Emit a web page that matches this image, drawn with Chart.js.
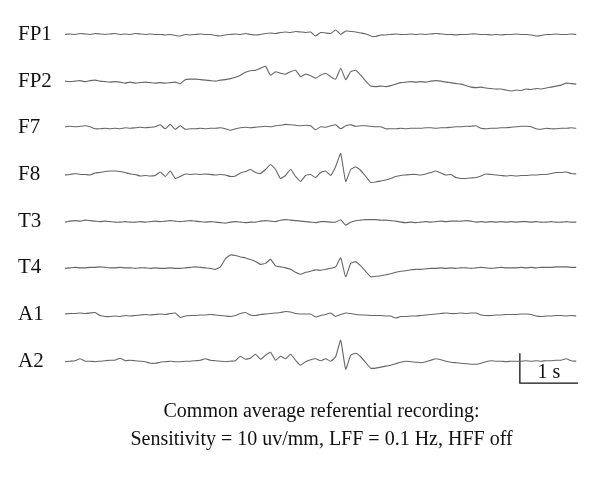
<!DOCTYPE html>
<html>
<head>
<meta charset="utf-8">
<script src="https://cdn.jsdelivr.net/npm/chart.js@4.4.0/dist/chart.umd.min.js"></script>
<style>
  html, body { margin: 0; padding: 0; background: #fff; }
  canvas { display: block; }
</style>
</head>
<body>
<canvas id="eeg" width="600" height="484"></canvas>
<script>
// EEG traces (common average montage), one sample every SAMPLE_STEP_S seconds,
// amplitudes in display units
const channels = ['FP1', 'FP2', 'F7', 'F8', 'T3', 'T4', 'A1', 'A2'];
const SAMPLE_STEP_S = 5 / 58;
const CHANNEL_GAP = 47;
const SCALE_BAR_S = 1;
const SCALE_BAR_AMP = 30;

const fp1 = [
  0, 0.5, 0, 1, 0.5, 0, 1, 0.5, 0, 0.5,
  1, 0, 0.5, 0, 1, 0.5, 0, 0.5, 0, 0,
  -0.5, 0, -1, -1.5, 0, -0.5, 0, 0.5, 0, 0,
  -1, -1.5, -0.5, 0, 0.5, 0, 1, 0, -0.5, 0,
  1, 1.5, 1, 2, 2.5, 2, 3, 2.5, 2, 2.5,
  -1.5, 2, 1.5, 1, 4.5, 0, 3.5, 3, 2.5, 1.5,
  0.5, -1.5, -2, -0.5, -0.5, 0, 0.5, 0, 0, 0.5,
  0, 0.5, 0, 0.5, 1, 0.5, 0, 0, -0.5, 0,
  0, 0.5, 0.5, 0, 0, -0.5, 0, -0.5, 0, 0,
  0.5, 0, 0, -0.5, -1.5, -1, 0, 0, 0.5, 0,
  0, 0.5, 0
];
const fp2 = [
  0, -0.5, 0, 0.5, -0.5, 0.5, 1, 0, -0.5, -1,
  -0.5, -1, -2, -1, -2, -1.5, -1, -1.5, -2, -1.5,
  -2, -1.5, -1, -2.5, 1.5, 2, 2, 1.5, 1, 0.5,
  0, 1, 1.5, 2.5, 4, 6, 9, 10.5, 11, 13,
  15, 6, 9.5, 8, 7, 9.5, 11, 4.5, 7, 5.5,
  3, 6, 8, 4.5, 2, 13, 1.5, 9.5, 11, 6,
  0, -5, -5.5, -5, -5.5, -4.5, -3, -1.5, -1, -0.5,
  -1, -0.5, -1, 0, 0.5, 0, -1, -1.5, -2.5, -3,
  -4.5, -6, -6.5, -6, -7, -7.5, -8, -8, -9, -10,
  -9, -9.5, -8, -8.5, -7.5, -8, -7, -6, -5, -4,
  -2, -2.5, -3
];
const f7 = [
  1, 1.5, 1, 1.5, 2, 1, -1, -1, -0.5, -1,
  -0.5, -1, 0, -0.5, 0, 0.5, 0, 0.5, 1, 3,
  -1, 3.5, -1.5, 2, -1.5, -1, -1, -0.5, -1, -0.5,
  -0.5, 0, -1, -2.5, -1, 0, 0.5, 0, 0.5, 1,
  1.5, 1, 2, 2.5, 3.5, 3, 2.5, 2, 2.5, 2,
  -2, 1, 0.5, 2, 3, -1, 2, 3, 1.5, 2,
  2, 1.5, 1, 1, -1, -1, -1, -0.5, -1, -0.5,
  -0.5, -0.5, 0, 0, -0.5, 0, 0, 0.5, 1, 1,
  1.5, 1.5, 2, -0.5, -1, -0.5, -0.5, 0, 0, 0.5,
  1, 1.5, 1.5, 1, -1, -1.5, -0.5, -1, -1, -0.5,
  -0.5, 0, -0.5
];
const f8 = [
  -0.5, 0, 1, 0, 0, -0.5, 1.5, 2, 3, 3.5,
  3.5, 3, 2, 0.5, 0, -1.5, -1, -1.5, -1, 2.5,
  -2, 3.5, -4, -2, 0.5, 0, 0.5, 0, 0.5, 0,
  -0.5, 0, -0.5, -2, -1.5, 1.5, 3, 5, 2, 1,
  5, 10, 5, -4, -1, 5, -2, -7, -1, 0,
  -3, 2, 3.5, -1, 8, 21, -7, 5, 7.5, 4,
  -2, -8, -7.5, -6.5, -5.5, -4, -2, -1, -0.5, 0,
  0, -0.5, 0.5, 2, 3.5, 1.5, -0.5, 0, -3, -4,
  -4, -3.5, -3, -1.5, 0.5, 0, -0.5, -1, -1.5, -1,
  -1.5, -1, -1, -0.5, -0.5, 0, 0, 1, 2, 2,
  2.5, 1, 0.5
];
const t3 = [
  -1, 0, 0.5, 0, 1, 0.5, 0, -0.5, 0, -0.5,
  -1, -1, -0.5, -1, -1, -0.5, -1, -0.5, 0, -0.5,
  0, 0.5, 0, -0.5, 0, 0.5, 0, -0.5, -1, -0.5,
  -1, -1.5, -2, -1, -0.5, -1, -1.5, -1, -1, 0,
  0.5, 0, -0.5, 1, 1.5, 1, 0.5, 0, -0.5, -1,
  -1.5, -0.5, -0.5, -1, -1, 1.5, -4, -1, 0.5, 1,
  1.5, 1.5, 1.5, 1, 1, 0.5, 0, -1, -1.5, -1,
  -1.5, -1, -0.5, -1, -0.5, 0, -0.5, 0, 0, 0,
  0.5, 0, -1, -0.5, -1, -0.5, -1, -0.5, -1, -0.5,
  -1, -0.5, -0.5, -1, -0.5, -1, -1, -0.5, -1, -1,
  -0.5, -1, -1
];
const t4 = [
  -0.5, 0, 0.5, 0, 0, 0.5, 0.5, 1, 0.5, 0,
  0, 0.5, 0, 0, -0.5, 0, 0, -0.5, 0, -0.5,
  -0.5, 0, -0.5, -0.5, 0, 0.5, 1, 0.5, 0, -0.5,
  -1.5, 1, 9, 13, 12.5, 11, 10, 8.5, 6.5, 3.5,
  4.5, 8.5, 2, 1, 0, -1.5, -4.5, -6.5, -4.5, -3.5,
  -2, -2.5, -1.5, -0.5, 1, 10, -9, 4.5, 6, 2,
  -3.5, -9, -8.5, -8, -7, -6, -4.5, -3.5, -3, -2,
  -1.5, -1.5, -1, -0.5, -0.5, 0, -0.5, 0, -0.5, 0,
  0, -0.5, 0, 0.5, 0, -0.5, 0, 0.5, 0, 0,
  0, 0.5, 0, 0.5, 0, 0.5, 0.5, 0.5, 1, 1,
  1, 0.5, 0.5
];
const a1 = [
  0.5, 1, 1, 1.5, 1, 1.5, 2, -1, -2, -2,
  -1.5, -2, -1, -1.5, -1, -0.5, 0, -0.5, 0, 0.5,
  0, 1, 1.5, -3, -1.5, -1, -1, -0.5, -0.5, 0,
  -0.5, -1, -1.5, -2, -1, 1, 2, -0.5, -1, 0,
  0.5, 1, 1.5, 2, 3, 2.5, 1, 0.5, 0.5, 0.5,
  -2.5, -1, 0, 1.5, -2, 0, 1.5, 1, 0, -0.5,
  -0.5, -1, -1, -1, -1.5, -1.5, -3.5, -2, -2, -1.5,
  -1.5, -1, -0.5, 0, 0.5, 1, 1.5, 1, 1, 1.5,
  1, 1.5, 1.5, -0.5, -1, -1, -0.5, -0.5, 0, 0,
  0, 0.5, 0.5, 0, -1.5, -2, -1.5, -1.5, -1, -1,
  -1.5, -1, -1.5
];
const a2 = [
  -0.5, 0, 0.5, 2.5, 0, 0, -0.5, 0, 0.5, 1,
  1, 3, 0.5, 1, 0.5, 0, -0.5, -2, -2, -1,
  -0.5, 0, -0.5, -0.5, 0, 0, 0.5, 1, 2.5, 1,
  0.5, 0, -0.5, 0, 0.5, 5, 2, 3, 7, 2,
  6, 9, 1, 5, 2.5, 7, 1, -4, -0.5, 1.5,
  2.5, 0.5, 2.5, 0, 4.5, 21, -8, 6, 8, 4.5,
  -1.5, -7, -7, -6, -5, -4, -2.5, -1, 0, -0.5,
  -1, -1.5, -0.5, 1, 2.5, 1.5, 0, -1, -1.5, -2,
  -2.5, -3, -3, -2, -0.5, 0.5, 0, 0, -0.5, 0,
  0, 0, 0.5, 0, 0.5, 0, 0.5, 0.5, 1, 1,
  2.5, 0.5, 0
];

const traces = [fp1, fp2, f7, f8, t3, t4, a1, a2];
const captionLines = [
  'Common average referential recording:',
  'Sensitivity = 10 uv/mm, LFF = 0.1 Hz, HFF off'
];

const serif = '"Liberation Serif", "DejaVu Serif", serif';

// each channel sits on its own baseline, top channel highest
function baseline(k) {
  return (channels.length - 1 - k) * CHANNEL_GAP;
}

const datasets = traces.map((vals, k) => ({
  label: channels[k],
  data: vals.map((v, i) => ({ x: i * SAMPLE_STEP_S, y: baseline(k) + v })),
  borderColor: '#666',
  borderWidth: 1.1,
  pointRadius: 0,
  tension: 0.15
}));

const totalSeconds = (fp1.length - 1) * SAMPLE_STEP_S + 0.03;
const barEnd = totalSeconds;
const barStart = barEnd - SCALE_BAR_S;

// the "1 s" calibration mark in the lower right corner
datasets.push({
  label: 'scale',
  data: [
    { x: barStart, y: 8 },
    { x: barStart, y: 8 - SCALE_BAR_AMP },
    { x: barEnd, y: 8 - SCALE_BAR_AMP }
  ],
  borderColor: '#111',
  borderWidth: 1.3,
  pointRadius: 0,
  tension: 0
});

const textPlugin = {
  id: 'eegText',
  afterDraw(chart) {
    const ctx = chart.ctx;
    const xs = chart.scales.x;
    const ys = chart.scales.y;
    ctx.save();
    ctx.fillStyle = '#111';
    ctx.textAlign = 'center';
    ctx.textBaseline = 'middle';
    ctx.font = '20px ' + serif;
    ctx.fillText('1 s', xs.getPixelForValue(barStart + SCALE_BAR_S / 2), ys.getPixelForValue(8 - SCALE_BAR_AMP / 2 - 5));

    const cx = (chart.chartArea.left + chart.chartArea.right) / 2;
    ctx.textBaseline = 'alphabetic';
    ctx.font = '20px ' + serif;
    ctx.fillText(captionLines[0], cx, 417);
    ctx.fillText(captionLines[1], cx, 445);
    ctx.restore();
  }
};

new Chart(document.getElementById('eeg'), {
  type: 'line',
  data: { datasets },
  options: {
    responsive: false,
    animation: false,
    layout: { padding: { left: 18, right: 22, top: 10, bottom: 94 } },
    plugins: {
      legend: { display: false },
      tooltip: { enabled: false }
    },
    scales: {
      x: {
        type: 'linear',
        display: false,
        min: 0,
        max: totalSeconds
      },
      y: {
        type: 'linear',
        min: -29,
        max: 351,
        grid: { display: false },
        border: { display: false },
        afterBuildTicks(scale) {
          scale.ticks = channels.map((c, k) => ({ value: baseline(k) })).reverse();
        },
        afterFit(scale) {
          scale.width = 47;
        },
        ticks: {
          autoSkip: false,
          crossAlign: 'far',
          padding: 0,
          color: '#111',
          font: { family: serif, size: 21 },
          callback(value) {
            const k = channels.findIndex((c, i) => baseline(i) === value);
            return k >= 0 ? channels[k] : '';
          }
        }
      }
    }
  },
  plugins: [textPlugin]
});
</script>
</body>
</html>
